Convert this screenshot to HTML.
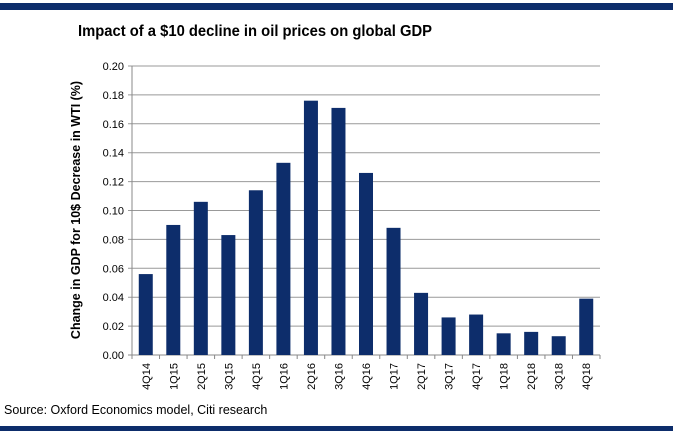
<!DOCTYPE html>
<html><head><meta charset="utf-8"><style>
body{margin:0;background:#fff;width:694px;height:440px;overflow:hidden;font-family:"Liberation Sans",sans-serif}
</style></head><body>
<svg width="694" height="440">
<rect x="0" y="3" width="673" height="7" fill="#0d2d6b"/>
<text x="78" y="36" textLength="354" lengthAdjust="spacingAndGlyphs" font-size="16" font-weight="bold" fill="#000">Impact of a $10 decline in oil prices on global GDP</text>
<g id="grid"></g><g id="bars"></g><g id="xaxis"></g>
<text transform="translate(80,210) rotate(-90)" text-anchor="middle" font-size="12.5" font-weight="bold" fill="#000">Change in GDP for 10$ Decrease in WTI (%)</text>
<text x="4" y="414" font-size="12.5" fill="#000">Source: Oxford Economics model, Citi research</text>
<rect x="0" y="426" width="673" height="5" fill="#0d2d6b"/>
</svg>
<script>
const categories=["4Q14","1Q15","2Q15","3Q15","4Q15","1Q16","2Q16","3Q16","4Q16","1Q17","2Q17","3Q17","4Q17","1Q18","2Q18","3Q18","4Q18"];
const values=[0.056,0.090,0.106,0.083,0.114,0.133,0.176,0.171,0.126,0.088,0.043,0.026,0.028,0.015,0.016,0.013,0.039];
const yTicks=[0,0.02,0.04,0.06,0.08,0.10,0.12,0.14,0.16,0.18,0.20];
const NS="http://www.w3.org/2000/svg";
const x0=132,x1=600,yTop=66,yBot=355,yMax=0.2;
const y=v=>yBot-(v/yMax)*(yBot-yTop);
const band=(x1-x0)/categories.length;
const bx=i=>x0+band*i;
function mk(t,a,p){const e=document.createElementNS(NS,t);for(const k in a)e.setAttribute(k,a[k]);p.appendChild(e);return e;}
const grid=document.getElementById('grid'),bars=document.getElementById('bars'),xa=document.getElementById('xaxis');
yTicks.forEach(v=>{
 const l=mk('line',{x1:x0-4,x2:x1,y1:y(v),y2:y(v),stroke:v===0?'#888':'#999','stroke-width':1},grid);
 
 
 const t=mk('text',{x:x0-8,y:y(v)+4,'text-anchor':'end','font-size':11,fill:'#000'},grid);
 t.textContent=v.toFixed(2);
 
 
});
mk('line',{x1:x0,x2:x0,y1:yTop,y2:yBot,stroke:'#888'},grid);
categories.forEach((c,i)=>{
 const r=mk('rect',{x:bx(i)+band/2-7,y:y(values[i]),width:14,height:yBot-y(values[i]),fill:'#0d2d6b'},bars);
 
 
 mk('line',{x1:bx(i),x2:bx(i),y1:yBot,y2:yBot+4,stroke:'#888'},xa);
 const cx=bx(i)+band/2+4,cy=yBot+8;
 const t=mk('text',{x:cx,y:cy,transform:`rotate(-90 ${cx} ${cy})`,'text-anchor':'end','font-size':11,fill:'#000'},xa);
 t.textContent=c;
 
 
});
mk('line',{x1:x1,x2:x1,y1:yBot,y2:yBot+4,stroke:'#888'},xa);
</script>
</body></html>
